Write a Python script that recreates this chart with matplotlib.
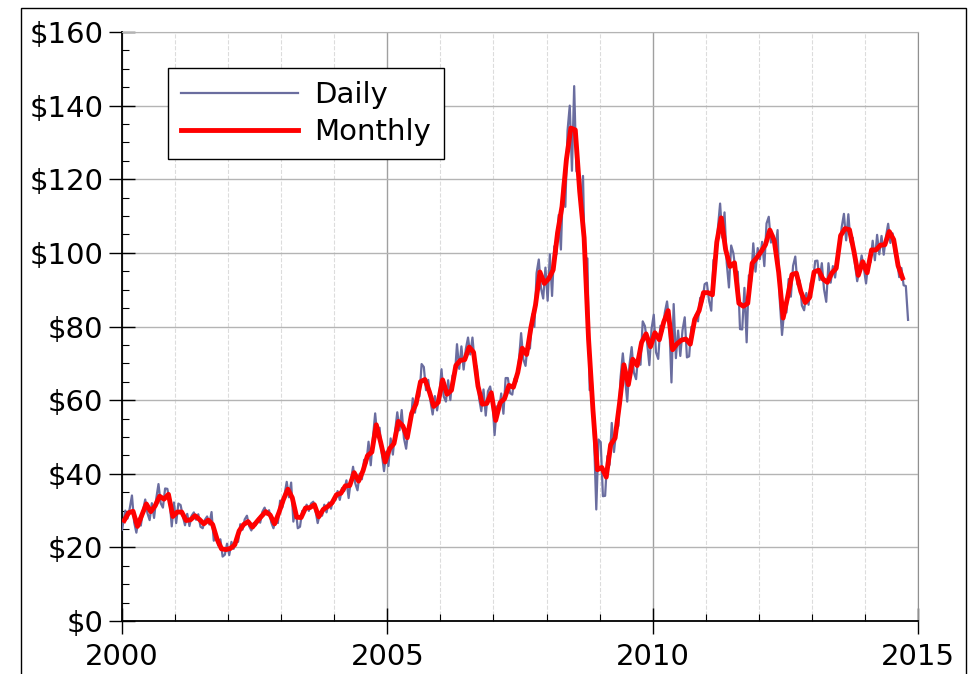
import numpy as np
import matplotlib
matplotlib.use("Agg")
import matplotlib.pyplot as plt
import matplotlib.patches as patches
from matplotlib.ticker import MultipleLocator, FuncFormatter

# monthly average price, Jan 2000 .. Sep 2014
monthly = [
    27.3, 29.4, 29.8, 25.7, 28.8, 31.8, 29.7, 31.3, 33.9, 33.1, 34.4, 28.4,   # 2000
    29.6, 29.6, 27.3, 27.5, 28.6, 27.6, 26.4, 27.4, 26.2, 22.2, 19.6, 19.4,   # 2001
    19.7, 20.7, 24.5, 26.2, 27.0, 25.5, 27.0, 28.4, 29.7, 28.8, 26.4, 29.5,   # 2002
    33.0, 35.8, 33.5, 28.2, 28.1, 30.7, 30.8, 31.6, 28.3, 30.3, 31.1, 32.1,   # 2003
    34.3, 34.7, 36.7, 36.8, 40.3, 38.0, 40.8, 44.9, 45.9, 53.3, 48.5, 43.2,   # 2004
    46.8, 48.2, 54.2, 53.0, 49.8, 56.4, 59.0, 65.0, 65.6, 62.3, 58.3, 59.4,   # 2005
    65.5, 61.6, 62.7, 69.4, 70.8, 71.0, 74.4, 73.0, 63.8, 58.9, 59.1, 62.0,   # 2006
    54.5, 59.3, 60.4, 64.0, 63.5, 67.5, 74.1, 72.4, 79.9, 85.8, 94.8, 91.7,   # 2007
    93.0, 95.4, 105.5, 112.6, 125.4, 133.9, 133.4, 116.7, 104.1, 76.6, 57.3, 41.1,  # 2008
    41.7, 39.1, 47.9, 49.7, 59.0, 69.6, 64.2, 71.1, 69.4, 75.7, 78.0, 74.5,   # 2009
    78.3, 76.4, 81.2, 84.3, 73.7, 75.3, 76.3, 76.6, 75.2, 81.9, 84.3, 89.2,   # 2010
    89.2, 88.6, 102.9, 109.5, 100.9, 96.3, 97.3, 86.3, 85.5, 86.3, 97.2, 98.6,  # 2011
    100.3, 102.2, 106.2, 103.3, 94.7, 82.3, 87.9, 94.1, 94.5, 89.5, 86.5, 87.9,  # 2012
    94.8, 95.3, 92.9, 92.0, 94.5, 95.8, 104.7, 106.6, 106.3, 100.5, 93.9, 97.6,  # 2013
    94.6, 100.8, 100.8, 102.1, 102.2, 105.8, 103.6, 96.5, 93.2,                # 2014
]

# daily range per month (low, high), Jan 2000 .. Oct 2014
daily_lo = [
    24.8, 27.8, 26.8, 24.0, 25.9, 29.3, 27.4, 28.0, 32.0, 30.8, 32.9, 25.7,
    26.6, 28.5, 26.0, 25.8, 27.5, 25.6, 25.2, 26.2, 21.8, 20.5, 17.5, 18.0,
    17.9, 19.6, 21.5, 24.8, 25.8, 24.6, 26.0, 26.7, 28.9, 26.8, 25.2, 26.6,
    30.8, 33.6, 27.0, 25.2, 25.6, 29.6, 29.9, 30.0, 26.6, 28.6, 29.5, 30.5,
    32.8, 32.9, 35.3, 33.4, 37.4, 35.5, 38.5, 42.8, 42.3, 49.9, 45.5, 40.7,
    42.1, 45.2, 51.8, 49.7, 46.8, 53.5, 56.6, 61.0, 62.7, 59.8, 56.1, 57.2,
    61.0, 59.6, 60.0, 66.3, 68.5, 68.3, 72.4, 70.3, 60.5, 57.0, 55.8, 60.3,
    50.5, 57.2, 56.3, 61.9, 61.5, 65.1, 71.1, 69.3, 74.0, 79.9, 90.4, 87.6,
    87.0, 88.3, 99.6, 100.9, 112.5, 122.3, 122.2, 112.9, 91.1, 62.7, 49.6, 30.3,
    33.9, 34.0, 42.4, 45.9, 53.0, 66.3, 59.6, 67.5, 65.7, 69.6, 75.5, 69.5,
    73.0, 71.2, 78.7, 81.3, 64.8, 71.4, 72.0, 71.6, 71.9, 79.5, 81.4, 86.7,
    87.0, 84.3, 97.2, 104.1, 97.2, 90.6, 94.9, 79.3, 79.2, 75.7, 92.2, 94.9,
    98.3, 96.4, 102.8, 101.0, 87.0, 77.7, 83.8, 88.1, 91.4, 85.7, 84.4, 85.9,
    92.1, 92.6, 90.1, 86.7, 91.9, 93.3, 101.2, 103.4, 102.9, 96.9, 92.3, 95.9,
    91.7, 97.4, 98.0, 99.6, 99.5, 102.7, 100.0, 93.4, 91.2, 81.8,
]
daily_hi = [
    30.0, 30.6, 34.1, 27.8, 30.0, 33.0, 32.0, 33.3, 37.2, 36.0, 35.9, 32.2,
    31.9, 31.5, 29.1, 28.6, 29.5, 29.0, 27.5, 28.4, 29.6, 23.4, 22.2, 21.0,
    21.5, 22.0, 26.3, 27.6, 28.6, 26.6, 27.8, 29.7, 30.8, 30.1, 27.6, 32.7,
    34.3, 37.8, 37.6, 30.6, 29.9, 31.6, 31.9, 32.4, 29.3, 31.6, 32.2, 33.0,
    35.3, 36.1, 38.2, 38.2, 41.9, 40.0, 43.8, 48.7, 49.9, 56.4, 52.5, 46.0,
    49.6, 51.5, 56.7, 57.3, 52.0, 60.5, 61.8, 69.8, 69.0, 65.5, 61.1, 61.4,
    68.4, 65.4, 66.7, 75.2, 74.6, 73.9, 77.0, 77.0, 69.0, 62.9, 62.4, 63.7,
    58.3, 61.8, 66.0, 66.0, 65.8, 70.7, 78.2, 75.4, 83.3, 94.5, 98.2, 96.0,
    99.6, 101.8, 110.3, 119.4, 133.2, 140.0, 145.3, 121.2, 120.9, 98.5, 65.3, 49.3,
    48.6, 44.8, 53.8, 51.6, 66.3, 72.7, 69.5, 74.4, 72.5, 81.4, 80.1, 79.4,
    83.2, 80.2, 83.8, 86.8, 86.1, 78.9, 79.0, 82.5, 79.9, 83.2, 87.8, 91.5,
    91.9, 98.1, 106.7, 113.4, 111.0, 102.0, 99.9, 94.9, 90.5, 93.9, 102.6, 101.3,
    103.0, 108.0, 109.8, 104.9, 106.2, 84.4, 92.9, 96.5, 99.0, 92.5, 89.1, 91.8,
    97.8, 97.9, 97.2, 97.2, 96.4, 98.4, 107.0, 110.6, 110.5, 104.1, 95.4, 99.3,
    97.5, 103.3, 104.9, 104.6, 104.4, 107.9, 105.3, 98.2, 95.9, 91.0,
]

x_ticks = [2000, 2005, 2010, 2015]

# time axes in decimal years
t_month = 2000 + (np.arange(len(monthly)) + 0.5) / 12.0
n = len(daily_lo)
t_daily = []
v_daily = []
for i in range(n):
    # order the two values of a month by the direction the price moves next
    nxt = monthly[i + 1] if i + 1 < len(monthly) else daily_lo[i]
    cur = monthly[i] if i < len(monthly) else daily_hi[i]
    if nxt >= cur:
        pair = (daily_lo[i], daily_hi[i])
    else:
        pair = (daily_hi[i], daily_lo[i])
    t_daily += [2000 + (i + 0.25) / 12.0, 2000 + (i + 0.75) / 12.0]
    v_daily += list(pair)
t_daily[0] = 2000.0

fig = plt.figure(figsize=(9.79, 6.74), dpi=100)
ax = fig.add_axes([122 / 979, 1 - 621 / 674, 796 / 979, 589 / 674])

ax.plot(t_daily, v_daily, color="#6a6d9f", lw=1.6, label="Daily", zorder=3)
ax.plot(t_month, monthly, color="red", lw=3.5, label="Monthly", zorder=4,
        solid_joinstyle="round")

ax.set_xlim(2000, 2015)
ax.set_ylim(0, 160)
ax.set_xticks(x_ticks)
ax.xaxis.set_minor_locator(MultipleLocator(1))
ax.yaxis.set_major_locator(MultipleLocator(20))
ax.yaxis.set_minor_locator(MultipleLocator(5))
ax.yaxis.set_major_formatter(FuncFormatter(lambda v, p: "$%d" % v))

ax.grid(which="major", axis="y", color="#b4b4b4", lw=1.0)
ax.grid(which="major", axis="x", color="#a0a0a0", lw=1.0)
ax.grid(which="minor", axis="x", color="#dcdcdc", lw=0.8, ls="--")
ax.set_axisbelow(True)

ax.spines["top"].set_color("#b4b4b4")
ax.spines["right"].set_color("#909090")
for s in ["left", "bottom"]:
    ax.spines[s].set_color("black")
    ax.spines[s].set_linewidth(1.3)

ax.tick_params(which="major", direction="inout", length=19, width=1,
               labelsize=21)
ax.tick_params(axis="y", which="major", pad=4)
ax.tick_params(axis="x", which="major", pad=6)
ax.tick_params(which="minor", direction="in", length=5, width=0.8)
ax.tick_params(axis="x", which="minor", bottom=True)
ax.tick_params(top=False, right=False, which="both")

leg = ax.legend(loc="upper left", bbox_to_anchor=(46 / 796, 553 / 589),
                borderaxespad=0, fontsize=21, handlelength=4.0,
                handletextpad=0.55, labelspacing=0.3, borderpad=0.45,
                fancybox=False, framealpha=1, edgecolor="black")
leg.get_frame().set_linewidth(1.0)

# thin frame round the figure
fig.patches.append(patches.Rectangle((21 / 979, -0.05), 945 / 979, 1.05 - 8 / 674,
                                     transform=fig.transFigure, fill=False,
                                     edgecolor="black", lw=1.0))

fig.savefig("out.png", dpi=100)
